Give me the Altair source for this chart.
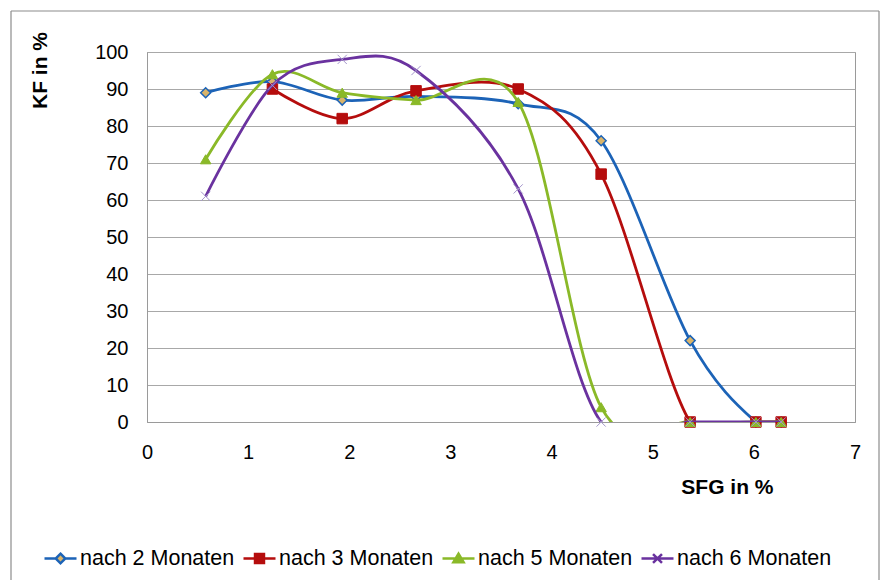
import altair as alt
import pandas as pd

# ---- data ----
sfg = [0.58, 1.24, 1.93, 2.66, 3.67, 4.49, 5.37, 6.02, 6.27]
kf_2 = [89, 92, 87, 88, 86, 76, 22, 0, 0]
kf_3 = [None, 90, 82, 89.5, 90, 67, 0, 0, 0]
kf_5 = [71, 94, 89, 87, 86.5, 4, 0, 0, 0]
kf_6 = [61, 91, 98, 95, 63, 0, 0, 0, 0]

series_names = ["nach 2 Monaten", "nach 3 Monaten", "nach 5 Monaten", "nach 6 Monaten"]
series_values = [kf_2, kf_3, kf_5, kf_6]
x_ticks = [0, 1, 2, 3, 4, 5, 6, 7]
y_ticks = [0, 10, 20, 30, 40, 50, 60, 70, 80, 90, 100]

# ---- styles ----
line_colors = ["#1c63b7", "#b50d0d", "#8ab928", "#6a329f"]
marker_fill = ["#d9b46a", "#b50d0d", "#8ab928", "transparent"]
marker_stroke = ["#1c63b7", "#b50d0d", "#8ab928", "#a597cc"]
marker_shape = ["diamond", "square", "triangle-up", "M-1,-1L1,1M-1,1L1,-1"]
marker_size = [100, 110, 110, 85]
marker_sw = [1.5, 1, 1, 1]
legend_paths = [
    "M-1,0L-0.3,0M0.3,0L1,0M0,-0.3L0.3,0L0,0.3L-0.3,0Z",
    "M-1,0L1,0M-0.28,-0.28L0.28,-0.28L0.28,0.28L-0.28,0.28Z",
    "M-1,0L1,0M0,-0.3L0.32,0.24L-0.32,0.24Z",
    "M-1,0L1,0M-0.28,-0.28L0.28,0.28M-0.28,0.28L0.28,-0.28",
]
legend_fill = ["#d9b46a", "#b50d0d", "#8ab928", "transparent"]

FONT = "Liberation Sans"

rows = []
for name, vals in zip(series_names, series_values):
    for xv, yv in zip(sfg, vals):
        if yv is not None:
            rows.append({"series": name, "sfg": xv, "kf": yv})
df = pd.DataFrame(rows)

x_enc = alt.X(
    "sfg:Q",
    scale=alt.Scale(domain=[0, 7], nice=False, zero=False),
    axis=alt.Axis(
        values=x_ticks, grid=False, ticks=False, tickSize=0, labelPadding=20,
        labelFlush=False,
        labelFontSize=20, labelFont=FONT, labelColor="#000000",
        title="SFG in %", titleFont=FONT, titleFontSize=21, titleFontWeight="bold",
        titleColor="#000000", titleX=626, titleY=65, titleAlign="right",
        titleBaseline="middle", titleAngle=0,
        domainColor="#9a9a9a", domainWidth=1,
    ),
)
y_enc = alt.Y(
    "kf:Q",
    scale=alt.Scale(domain=[0, 100], nice=False),
    axis=alt.Axis(
        values=y_ticks, grid=True, gridColor="#a8a8a8", gridWidth=1,
        ticks=False, tickSize=0, labelPadding=19, labelFlush=False,
        labelFontSize=20, labelFont=FONT, labelColor="#000000",
        title="KF in %", titleFont=FONT, titleFontSize=21, titleFontWeight="bold",
        titleColor="#000000", titleX=-107, titleY=18, titleAlign="center",
        titleBaseline="middle", titleAngle=270,
        domainColor="#9a9a9a", domainWidth=1,
    ),
)

base = alt.Chart(df)
layers = []
for i, name in enumerate(series_names):
    sub = base.transform_filter(alt.datum.series == name)
    layers.append(
        sub.mark_line(interpolate="cardinal", clip=True, color=line_colors[i], strokeWidth=2.8)
        .encode(x=x_enc, y=y_enc)
    )
    layers.append(
        sub.mark_point(
            shape=marker_shape[i], filled=True, fill=marker_fill[i], stroke=marker_stroke[i],
            size=marker_size[i], strokeWidth=marker_sw[i], opacity=1,
        ).encode(x=x_enc, y=y_enc)
    )

leg = alt.Legend(
    orient="none", legendX=-104, legendY=489, direction="horizontal", title=None,
    symbolSize=1024, symbolStrokeWidth=2.5, symbolOpacity=1,
    labelFontSize=21.5, labelFont=FONT, labelColor="#000000", labelOffset=2,
    columnPadding=3,
)
legend_layer = (
    alt.Chart(pd.DataFrame({"series": series_names}))
    .transform_filter("false")
    .mark_point(opacity=1)
    .encode(
        shape=alt.Shape("series:N", scale=alt.Scale(domain=series_names, range=legend_paths), legend=leg),
        stroke=alt.Stroke("series:N", scale=alt.Scale(domain=series_names, range=line_colors), legend=leg),
        fill=alt.Fill("series:N", scale=alt.Scale(domain=series_names, range=legend_fill), legend=leg),
    )
)

frame_df = pd.DataFrame({"k": [0]})
frame_color = "#8c8c8c"
frame_top = alt.Chart(frame_df).mark_rule(color=frame_color, strokeWidth=1.2).encode(
    x=alt.value(-136), x2=alt.value(732), y=alt.value(-41))
frame_left = alt.Chart(frame_df).mark_rule(color=frame_color, strokeWidth=1.2).encode(
    x=alt.value(-136), y=alt.value(-41), y2=alt.value(540))
frame_right = alt.Chart(frame_df).mark_rule(color=frame_color, strokeWidth=1.2).encode(
    x=alt.value(732), y=alt.value(-41), y2=alt.value(540))

chart = (
    alt.layer(*layers, legend_layer, frame_top, frame_left, frame_right)
    .properties(
        width=708, height=370,
        padding={"left": 139, "top": 44, "right": 25, "bottom": 158},
        autosize=alt.AutoSizeParams(type="none"),
        background="white",
    )
    .configure_view(stroke="#9a9a9a", strokeWidth=1)
)

chart.save("out.html", embed_options={"renderer": "svg", "actions": False})
